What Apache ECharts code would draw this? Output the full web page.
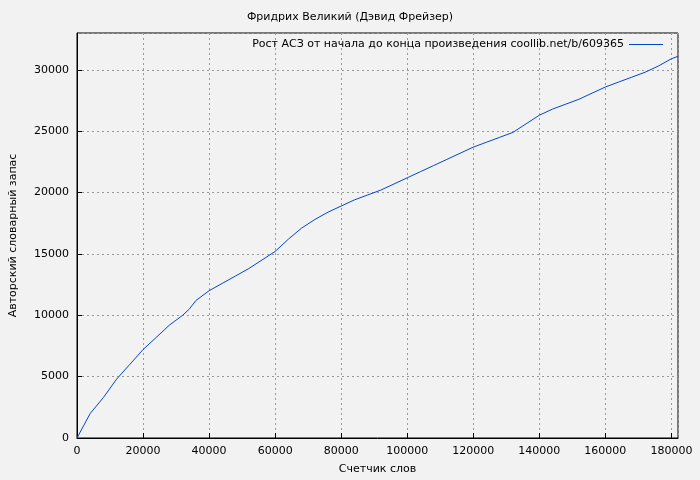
<!DOCTYPE html>
<html><head><meta charset="utf-8">
<script src="https://cdn.jsdelivr.net/npm/echarts@6/dist/echarts.min.js"></script>
<style>body{margin:0;background:#f2f2f2}#main{width:700px;height:480px}</style>
</head><body><div id="main"></div>
<script>
// счетчик слов (тыс.) и словарный запас
const wordsK = [0,2,4,8,12,16,20,24,28,32,34,36,40,44,48,52,56,60,64,68,72,76,80,84,88,92,96,100,104,108,112,116,120,124,128,132,136,140,144,148,152,156,160,164,168,172,176,180,182];
const vocab = [0,1000,2000,3300,4800,6000,7200,8200,9200,10000,10500,11200,12000,12600,13200,13800,14500,15200,16200,17100,17800,18400,18900,19400,19800,20200,20700,21200,21700,22200,22700,23200,23700,24100,24500,24900,25600,26300,26800,27200,27600,28100,28600,29000,29400,29800,30300,30900,31100];
const seriesName = 'Рост АСЗ от начала до конца произведения coollib.net/b/609365';

const points = wordsK.map((k, i) => [k * 1000, vocab[i]]);
const font = 'DejaVu Sans';
const grid = {show: true, lineStyle: {color: '#999', type: [2, 3], width: 1}};
const plain = v => String(v);
const chart = echarts.init(document.getElementById('main'));
chart.setOption({
  backgroundColor: '#f2f2f2',
  animation: false,
  textStyle: {fontFamily: font},
  title: {text: 'Фридрих Великий (Дэвид Фрейзер)', left: 'center', top: 7,
    textStyle: {fontSize: 11, fontWeight: 'normal', color: '#000', fontFamily: font}},
  legend: {right: 32, top: 34, align: 'right', itemWidth: 34, itemHeight: 1, itemGap: 8,
    textStyle: {fontSize: 11, color: '#000', fontFamily: font},
    data: [{name: seriesName, icon: 'rect'}]},
  grid: {left: 74, right: 22, top: 33, bottom: 41, show: true, borderColor: '#000', borderWidth: 1, backgroundColor: 'transparent'},
  xAxis: {type: 'value', min: 0, max: 182000, interval: 20000, name: 'Счетчик слов',
    nameLocation: 'middle', nameGap: 26, nameTextStyle: {fontSize: 11, color: '#000'},
    axisLine: {show: true, lineStyle: {color: '#000'}}, axisTick: {inside: true, lineStyle: {color: '#000'}},
    axisLabel: {fontSize: 11, color: '#000', formatter: plain}, splitLine: grid},
  yAxis: {type: 'value', min: 0, max: 33000, interval: 5000, name: 'Авторский словарный запас',
    nameLocation: 'middle', nameGap: 58, nameTextStyle: {fontSize: 11, color: '#000'},
    axisLine: {show: true, lineStyle: {color: '#000'}}, axisTick: {inside: true, lineStyle: {color: '#000'}},
    axisLabel: {fontSize: 11, color: '#000', showMaxLabel: false, formatter: plain}, splitLine: grid},
  series: [{name: seriesName, type: 'line', data: points, showSymbol: false,
    lineStyle: {color: '#0047c8', width: 1}, itemStyle: {color: '#0047c8'}}]
});
</script></body></html>
